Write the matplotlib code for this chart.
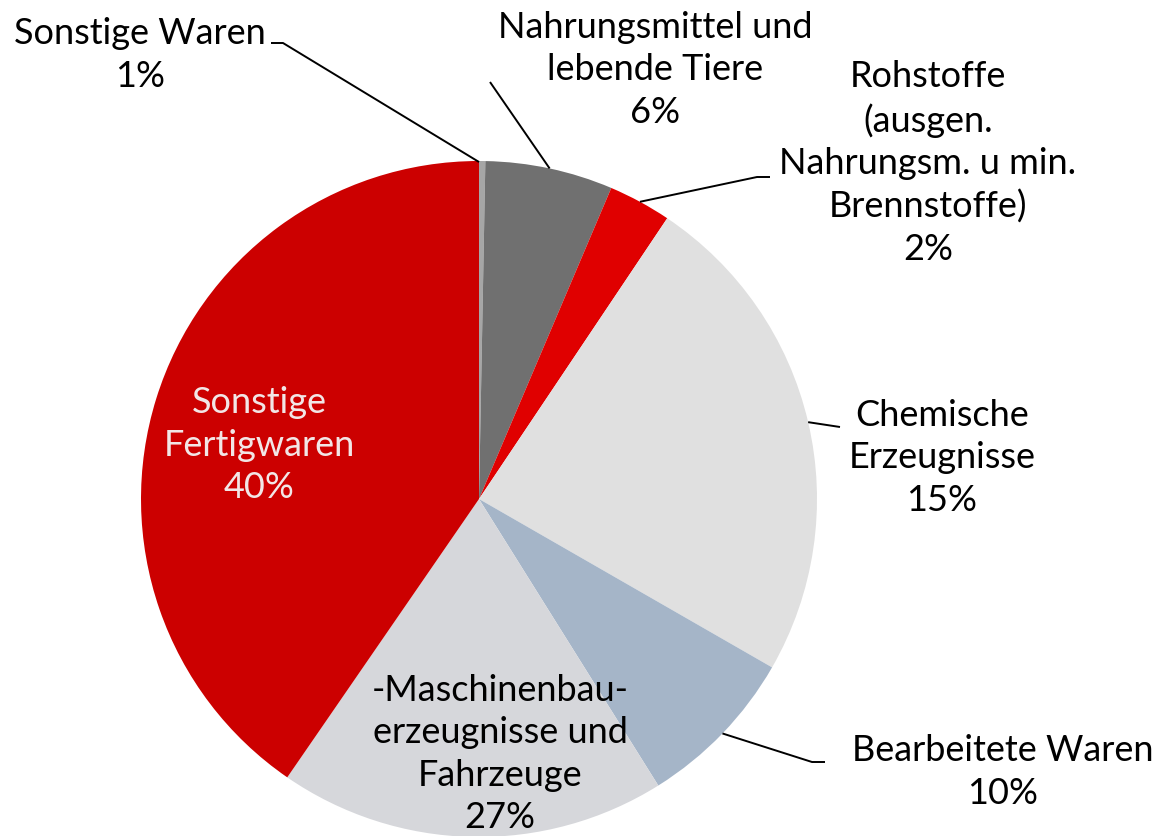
import numpy as np
import matplotlib
matplotlib.use("Agg")
import matplotlib.pyplot as plt

# ---- data ----
categories = [
    "Sonstige Waren",
    "Nahrungsmittel und\nlebende Tiere",
    "Rohstoffe\n(ausgen.\nNahrungsm. u min.\nBrennstoffe)",
    "Chemische\nErzeugnisse",
    "Bearbeitete Waren",
    "-Maschinenbau-\nerzeugnisse und\nFahrzeuge",
    "Sonstige\nFertigwaren",
]
# slice sizes as drawn in the picture
values = [0.3, 6.1, 3.0, 23.9, 7.8, 18.5, 40.4]
# percentages as printed in the labels
pct_labels = ["1%", "6%", "2%", "15%", "10%", "27%", "40%"]
colors = ["#A6A6A6", "#707070", "#E00000", "#E0E0E0", "#A5B5C8", "#D6D7DB", "#CC0000"]

W, H = 1165, 836
fig = plt.figure(figsize=(W / 100, H / 100), dpi=100)
ax = fig.add_axes([0, 0, 1, 1])

cx, cy, R = 479, H - 499, 338
wedges, _ = ax.pie(values, colors=colors, startangle=90, counterclock=False,
                   center=(cx, cy), radius=R, frame=True,
                   wedgeprops=dict(linewidth=0))
ax.set_xlim(0, W)
ax.set_ylim(0, H)
ax.set_aspect("equal")
ax.axis("off")

font = ["Lato", "DejaVu Sans"]
fs = 26
ls = 1.34

def mid_point(w):
    a = np.deg2rad((w.theta1 + w.theta2) / 2)
    return cx + R * np.cos(a), cy + R * np.sin(a)

outside = {
    0: dict(tx=140, ty=55, line=[(283, 43), (271, 43)], attach=(479, 162)),
    1: dict(tx=655, ty=70, line=[(490, 82)], attach=None),
    2: dict(tx=928, ty=163, line=[(757, 177), (770, 177)], attach=None),
    3: dict(tx=942, ty=458, line=[(840, 427)], attach=None),
    4: dict(tx=1003, ty=772, line=[(812, 762), (825, 762)], attach=None),
}

for i, o in outside.items():
    txt = categories[i] + "\n" + pct_labels[i]
    ax.text(o["tx"], H - o["ty"], txt, ha="center", va="center", fontsize=fs,
            family=font, color="black", linespacing=ls)
    if o["attach"] is None:
        px, py = mid_point(wedges[i])
    else:
        px, py = o["attach"][0], H - o["attach"][1]
    xs = [px] + [p[0] for p in o["line"]]
    ys = [py] + [H - p[1] for p in o["line"]]
    ax.plot(xs, ys, color="black", lw=1.4, solid_capstyle="butt")

# inside labels
ax.text(500, H - 754, categories[5] + "\n" + pct_labels[5], ha="center", va="center",
        fontsize=fs, family=font, color="black", linespacing=ls)
ax.text(259, H - 445, categories[6] + "\n" + pct_labels[6], ha="center", va="center",
        fontsize=fs, family=font, color="#F2E6E6", linespacing=ls)

fig.savefig("out.png", dpi=100)
